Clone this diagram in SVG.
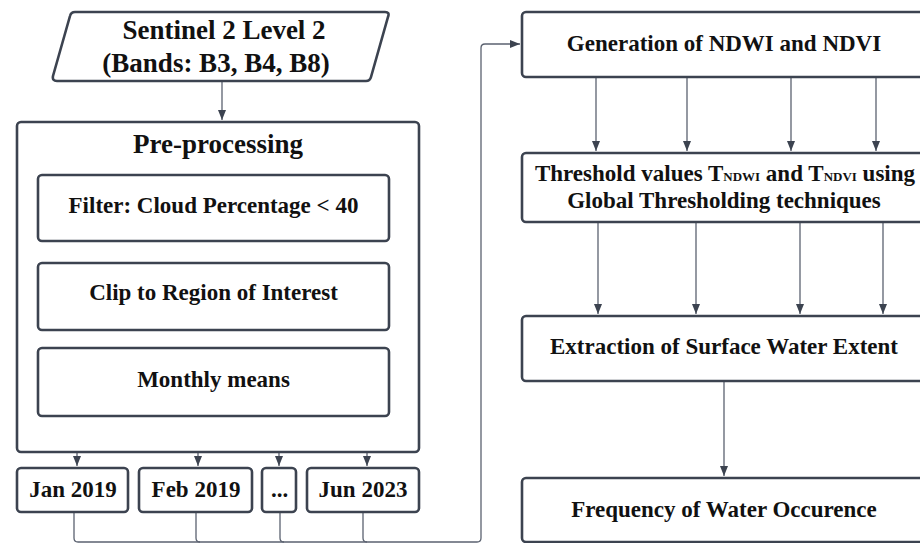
<svg xmlns="http://www.w3.org/2000/svg" width="920" height="543" viewBox="0 0 920 543">
<defs>
<marker id="ah" markerUnits="userSpaceOnUse" markerWidth="10" markerHeight="10" viewBox="0 0 10 10" refX="10" refY="5" orient="auto">
<path d="M0,1 L10,5 L0,9 Z" fill="#3c4350"/>
</marker>
</defs>
<style>
.box{fill:#fff;stroke:#3c4350;stroke-width:2.6}
.t{font-family:"Liberation Serif","Times New Roman",serif;font-weight:bold;fill:#111;text-anchor:middle}
.c{fill:none;stroke:#5b6270;stroke-width:1.3}
.ca{fill:none;stroke:#5b6270;stroke-width:1.3;marker-end:url(#ah)}
</style>
<rect width="920" height="543" fill="#fff"/>

<g id="connectors">
<path class="ca" d="M222,82 V120"/>
<path class="ca" d="M77,417 V466"/>
<path class="ca" d="M198,417 V466"/>
<path class="ca" d="M279,417 V466"/>
<path class="ca" d="M367,417 V466"/>
<path class="c" d="M74,513 V538 Q74,542 78,542 H477"/>
<path class="c" d="M196,513 V538 Q196,542 200,542"/>
<path class="c" d="M280,513 V538 Q280,542 284,542"/>
<path class="c" d="M363,513 V538 Q363,542 367,542"/>
<path class="ca" d="M477,542 Q481,542 481,538 V48 Q481,44 485,44 H520"/>
<path class="ca" d="M596,78 V151"/>
<path class="ca" d="M687,78 V151"/>
<path class="ca" d="M791,78 V151"/>
<path class="ca" d="M876,78 V151"/>
<path class="ca" d="M598,223 V314"/>
<path class="ca" d="M696,223 V314"/>
<path class="ca" d="M800,223 V314"/>
<path class="ca" d="M883,223 V314"/>
<path class="ca" d="M724,382 V476"/>
</g>

<g id="sentinel">
<path class="box" d="M75,12 H385 Q390,12 388,17 L371,77 Q370,81 366,81 H57 Q52,81 53,76 L70,16 Q71,12 75,12 Z"/>
<text class="t" x="224" y="39" font-size="27">Sentinel 2 Level 2</text>
<text class="t" x="216" y="72" font-size="27">(Bands: B3, B4, B8)</text>
</g>

<g id="preprocessing">
<rect class="box" x="17" y="122" width="402" height="330" rx="4"/>
<text class="t" x="218" y="153" font-size="27">Pre-processing</text>
</g>
<g id="filter">
<rect class="box" x="38" y="175" width="351" height="66" rx="4"/>
<text class="t" x="213.5" y="213" font-size="23">Filter: Cloud Percentage &lt; 40</text>
</g>
<g id="clip">
<rect class="box" x="38" y="263" width="351" height="67" rx="4"/>
<text class="t" x="213.5" y="300" font-size="23">Clip to Region of Interest</text>
</g>
<g id="monthly">
<rect class="box" x="38" y="348" width="351" height="68" rx="4"/>
<text class="t" x="213.5" y="387" font-size="23">Monthly means</text>
</g>

<g id="jan2019">
<rect class="box" x="17" y="468" width="111" height="44" rx="4"/>
<text class="t" x="73" y="497" font-size="23">Jan 2019</text>
</g>
<g id="feb2019">
<rect class="box" x="139" y="468" width="113" height="44" rx="4"/>
<text class="t" x="196" y="497" font-size="23">Feb 2019</text>
</g>
<g id="ellipsis">
<rect class="box" x="262" y="468" width="34" height="44" rx="4"/>
<text class="t" x="279.5" y="497" font-size="23">...</text>
</g>
<g id="jun2023">
<rect class="box" x="307" y="468" width="112" height="44" rx="4"/>
<text class="t" x="363" y="497" font-size="23">Jun 2023</text>
</g>

<g id="generation">
<rect class="box" x="522" y="12" width="406" height="65" rx="4"/>
<text class="t" x="724" y="51" font-size="23">Generation of NDWI and NDVI</text>
</g>
<g id="threshold">
<rect class="box" x="522" y="153" width="406" height="69" rx="4"/>
<text class="t" x="725" y="181" font-size="23">Threshold values T<tspan font-size="13">NDWI</tspan> and T<tspan font-size="13">NDVI</tspan> using</text>
<text class="t" x="724" y="208" font-size="23">Global Thresholding techniques</text>
</g>
<g id="extraction">
<rect class="box" x="522" y="316" width="406" height="65" rx="4"/>
<text class="t" x="724" y="354" font-size="23">Extraction of Surface Water Extent</text>
</g>
<g id="frequency">
<rect class="box" x="522" y="478" width="406" height="64" rx="4"/>
<text class="t" x="724" y="517" font-size="23">Frequency of Water Occurence</text>
</g>
</svg>
